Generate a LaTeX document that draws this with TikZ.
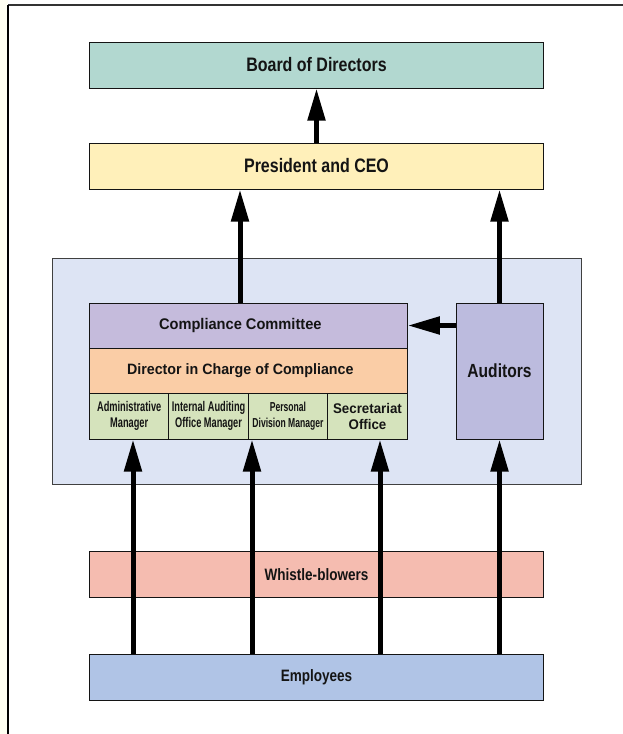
\documentclass[tikz,border=0pt]{standalone}
\usepackage{fontspec}
\setmainfont{Liberation Sans}
\newfontfamily\condfont{Liberation Sans}[FakeStretch=0.82]
\newfontfamily\semifont{Liberation Sans}[FakeStretch=0.95]
\newfontfamily\narrowfont{Liberation Sans}[FakeStretch=0.66]
\usetikzlibrary{arrows.meta}

\definecolor{boardcol}{RGB}{178,216,208}
\definecolor{prescol}{RGB}{255,240,186}
\definecolor{panelcol}{RGB}{221,228,244}
\definecolor{cccol}{RGB}{197,187,220}
\definecolor{dircol}{RGB}{250,205,166}
\definecolor{mgrcol}{RGB}{213,227,188}
\definecolor{audcol}{RGB}{188,187,222}
\definecolor{whistcol}{RGB}{245,188,176}
\definecolor{empcol}{RGB}{176,196,230}
\definecolor{creamcol}{RGB}{255,255,242}
\definecolor{inkcol}{RGB}{20,20,20}

\begin{document}
\begin{tikzpicture}[x=1pt,y=-1pt,
  box/.style={draw=inkcol,line width=1pt,inner sep=0pt,align=center,text=inkcol},
  wide/.style={box,minimum width=454pt,minimum height=46pt,font=\condfont\bfseries\fontsize{16.5}{19}\selectfont},
  mgr/.style={box,fill=mgrcol,minimum width=79.5pt,minimum height=46pt,font=\narrowfont\bfseries\fontsize{14}{16}\selectfont},
  arr/.style={line width=5pt,-{Triangle[length=32pt,width=17pt]}}]
  \useasboundingbox (0,0) rectangle (623,734);
  % page frame
  \fill[creamcol] (0,0) rectangle (8,734);
  \draw[line width=1.5pt,black!80] (8,5) -- (623,5);
  \draw[line width=1.5pt] (8,5) -- (8,734);
  % top of the chart
  \node[wide,fill=boardcol,font=\condfont\bfseries\fontsize{19.5}{22}\selectfont] (board) at (316.5,65) {Board of Directors};
  \node[wide,fill=prescol,font=\condfont\bfseries\fontsize{19.5}{22}\selectfont] (pres) at (316.5,166) {President and CEO};
  % compliance panel
  \node[box,draw=black!75,fill=panelcol,minimum width=529pt,minimum height=226pt] (panel) at (316.5,371) {};
  \node[box,fill=cccol,minimum width=318pt,minimum height=45pt,font=\semifont\bfseries\fontsize{15.4}{18}\selectfont] (cc) at (248.3,325.5) {\hspace*{-16pt}Compliance Committee};
  \node[box,fill=dircol,minimum width=318pt,minimum height=45pt,font=\semifont\bfseries\fontsize{15}{18}\selectfont] (dir) at (248.3,370.5) {\hspace*{-16pt}Director in Charge of Compliance};
  \node[mgr] (adm) at (129.2,416) {Administrative\\Manager};
  \node[mgr] (iam) at (208.6,416) {Internal Auditing\\Office Manager};
  \node[mgr,font=\narrowfont\bfseries\fontsize{13}{16}\selectfont] (pdm) at (288,416) {Personal\\Division Manager};
  \node[mgr,font=\semifont\bfseries\fontsize{14}{16}\selectfont] (sec) at (367.5,416) {Secretariat\\Office};
  \node[box,fill=audcol,minimum width=87pt,minimum height=136pt,font=\condfont\bfseries\fontsize{19}{22}\selectfont] (aud) at (499.5,371) {Auditors};
  % bottom of the chart
  \node[wide,fill=whistcol] (whist) at (316.5,574.5) {Whistle-blowers};
  \node[wide,fill=empcol] (emp) at (316.5,677.5) {Employees};
  % arrows
  \coordinate (x1) at (133,0);
  \coordinate (x2) at (252,0);
  \coordinate (x3) at (380,0);
  \coordinate (x4) at (240,0);
  \draw[arr] (pres.north) -- (board.south);
  \draw[arr] (cc.north -| x4) -- (pres.south -| x4);
  \draw[arr] (aud.north) -- (aud.north |- pres.south);
  \draw[arr] (aud.west |- cc.east) -- (cc.east);
  \draw[arr] (emp.north -| x1) -- (adm.south -| x1);
  \draw[arr] (emp.north -| x2) -- (iam.south -| x2);
  \draw[arr] (emp.north -| x3) -- (sec.south -| x3);
  \draw[arr] (emp.north -| aud.south) -- (aud.south);
\end{tikzpicture}
\end{document}
